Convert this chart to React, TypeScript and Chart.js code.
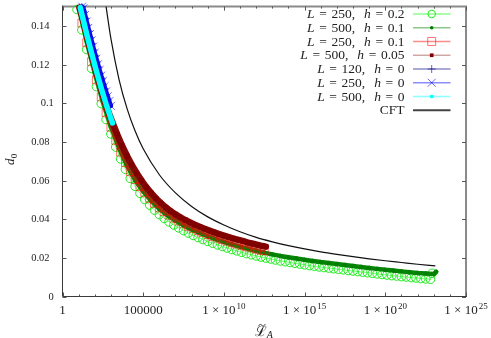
import React, { useEffect, useRef } from 'react';
import { Chart, registerables } from 'chart.js';

Chart.register(...registerables);

// ---------------- data (x given as log10 of L_A, read on the log axis) ----------------
// L = 250, h = 0.2
const GC_LOGX = [0.9, 1.2, 1.5, 1.8, 2.1, 2.4, 2.7, 3.0, 3.3, 3.6, 3.9, 4.2, 4.5, 4.8, 5.1, 5.4, 5.7, 6.0, 6.3, 6.6,
  6.9, 7.2, 7.5, 7.8, 8.1, 8.4, 8.7, 9.0, 9.3, 9.6, 9.9, 10.2, 10.5, 10.8, 11.1, 11.4, 11.7, 12.0, 12.3, 12.6,
  12.9, 13.2, 13.5, 13.8, 14.1, 14.4, 14.7, 15.0, 15.3, 15.6, 15.9, 16.2, 16.5, 16.8, 17.1, 17.4, 17.7, 18.0, 18.3, 18.6,
  18.9, 19.2, 19.5, 19.8, 20.1, 20.4, 20.7, 21.0, 21.3, 21.6, 21.9, 22.2, 22.5, 22.8, 22.9];
const GC_D = [0.1485, 0.1380, 0.1278, 0.1180, 0.1086, 0.0998, 0.0916, 0.0841, 0.0773, 0.0712,
  0.0658, 0.0611, 0.0570, 0.0534, 0.0502, 0.0473, 0.0447, 0.0424, 0.0404, 0.0386,
  0.0370, 0.0355, 0.0341, 0.0328, 0.0316, 0.0305, 0.0295, 0.0285, 0.0276, 0.0267,
  0.0259, 0.0251, 0.0243, 0.0236, 0.0229, 0.0222, 0.0216, 0.0210, 0.0204, 0.0199,
  0.0194, 0.0189, 0.0184, 0.0180, 0.0176, 0.0172, 0.0168, 0.0164, 0.0160, 0.0157,
  0.0153, 0.0150, 0.0147, 0.0144, 0.0141, 0.0138, 0.0135, 0.0132, 0.0129, 0.0126,
  0.0123, 0.0120, 0.0117, 0.0114, 0.0111, 0.0108, 0.0106, 0.0103, 0.0101, 0.0098,
  0.0096, 0.0093, 0.0091, 0.0089, 0.0120];

// L = 500, h = 0.1
const DG_LOGX = [1.1, 1.5, 2.0, 2.5, 3.0, 3.5, 4.0, 4.5, 5.0, 5.5, 6.0, 6.5, 7.0, 7.5, 8.0, 8.5, 9.0, 9.5, 10.0, 10.5,
  11.0, 11.5, 12.0, 12.5, 13.0, 13.5, 14.0, 14.5, 15.0, 15.5, 16.0, 16.5, 17.0, 17.5, 18.0, 18.5, 19.0, 19.5, 20.0, 20.5,
  21.0, 21.5, 22.0, 22.5, 23.0, 23.15];
const DG_D = [0.1465, 0.1320, 0.1157, 0.1008, 0.0878, 0.0768, 0.0676, 0.0602, 0.0544, 0.0494,
  0.0453, 0.0420, 0.0393, 0.0368, 0.0347, 0.0329, 0.0312, 0.0297, 0.0283, 0.0270,
  0.0258, 0.0247, 0.0237, 0.0227, 0.0218, 0.0210, 0.0203, 0.0197, 0.0190, 0.0184,
  0.0178, 0.0173, 0.0168, 0.0163, 0.0158, 0.0153, 0.0148, 0.0143, 0.0138, 0.0134,
  0.0130, 0.0126, 0.0122, 0.0119, 0.0116, 0.0128];

// L = 250, h = 0.1
const RS_LOGX = [1.2, 1.5, 1.8, 2.1, 2.4, 2.7, 3.0, 3.3, 3.6, 3.9, 4.2, 4.5, 4.8, 5.1, 5.4, 5.7, 6.0, 6.3, 6.6, 6.9,
  7.2, 7.5, 7.8, 8.1, 8.4, 8.7, 9.0, 9.3, 9.6, 9.9, 10.2, 10.5, 10.8, 11.1, 11.4, 11.7, 12.0, 12.3, 12.5];
const RS_D = [0.1415, 0.1313, 0.1215, 0.1121, 0.1033, 0.0951, 0.0876, 0.0808, 0.0747, 0.0693,
  0.0646, 0.0605, 0.0569, 0.0537, 0.0508, 0.0482, 0.0459, 0.0439, 0.0421, 0.0405,
  0.0390, 0.0376, 0.0363, 0.0351, 0.0340, 0.0330, 0.0320, 0.0311, 0.0302, 0.0294,
  0.0286, 0.0278, 0.0271, 0.0264, 0.0257, 0.0251, 0.0245, 0.0239, 0.0236];

// L = 500, h = 0.05
const DR_LOGX = [1.05, 1.3, 1.6, 1.9, 2.2, 2.5, 2.8, 3.1, 3.4, 3.7, 4.0, 4.3, 4.6, 4.9, 5.2, 5.5, 5.8, 6.1, 6.4, 6.7,
  7.0, 7.3, 7.6, 7.9, 8.2, 8.5, 8.8, 9.1, 9.4, 9.7, 10.0, 10.3, 10.6, 10.9, 11.2, 11.5, 11.8, 12.1, 12.4, 12.6];
const DR_D = [0.1495, 0.1421, 0.1320, 0.1223, 0.1132, 0.1045, 0.0966, 0.0900, 0.0837, 0.0779,
  0.0727, 0.0680, 0.0638, 0.0600, 0.0565, 0.0535, 0.0507, 0.0483, 0.0461, 0.0442,
  0.0425, 0.0410, 0.0396, 0.0383, 0.0371, 0.0361, 0.0351, 0.0341, 0.0332, 0.0323,
  0.0315, 0.0307, 0.0300, 0.0293, 0.0286, 0.0279, 0.0273, 0.0267, 0.0261, 0.0258];

// L = 120, h = 0
const BP_LOGX = [1.2, 1.4, 1.6, 1.8, 2.0, 2.2, 2.4, 2.6];
const BP_D = [0.1498, 0.1440, 0.1373, 0.1310, 0.1248, 0.1188, 0.1130, 0.1075];

// L = 250, h = 0
const BX_LOGX = [1.22, 1.3, 1.4, 1.5, 1.6, 1.7, 1.8, 1.9, 2.0, 2.1, 2.2, 2.3, 2.4, 2.5, 2.6, 2.7, 2.8, 2.9, 3.0];
const BX_D = [0.1500, 0.1491, 0.1457, 0.1423, 0.1390, 0.1358, 0.1325, 0.1293, 0.1262, 0.1231,
  0.1202, 0.1172, 0.1143, 0.1115, 0.1088, 0.1061, 0.1036, 0.1011, 0.0986];

// L = 500, h = 0
const CY_LOGX = [1.1, 1.2, 1.3, 1.4, 1.5, 1.6, 1.7, 1.8, 1.9, 2.0, 2.1, 2.2, 2.3, 2.4, 2.5, 2.6, 2.7, 2.8, 2.9, 3.0, 3.1];
const CY_D = [0.1495, 0.1460, 0.1426, 0.1392, 0.1358, 0.1325, 0.1293, 0.1260, 0.1228, 0.1197,
  0.1166, 0.1137, 0.1107, 0.1078, 0.1050, 0.1023, 0.0996, 0.0971, 0.0946, 0.0921, 0.0898];

// CFT
const CFT_LOGX = [2.7, 3.0, 3.5, 4.0, 4.5, 5.0, 6.0, 7.0, 8.0, 9.0, 10.0, 11.0, 12.0, 13.0, 14.0, 15.0, 16.0, 17.0, 18.0, 19.0,
  20.0, 21.0, 22.0, 23.1];
const CFT_D = [0.1500, 0.1334, 0.1124, 0.0972, 0.0856, 0.0764, 0.0630, 0.0536, 0.0466, 0.0412,
  0.0370, 0.0335, 0.0306, 0.0283, 0.0263, 0.0246, 0.0231, 0.0218, 0.0206, 0.0195,
  0.0185, 0.0176, 0.0167, 0.0158];

// axes
const Y_TICK_VALUES = [0, 0.02, 0.04, 0.06, 0.08, 0.1, 0.12, 0.14];
const Y_TICK_LABELS = ['0', '0.02', '0.04', '0.06', '0.08', '0.1', '0.12', '0.14'];
const X_MAJOR_VALUES = [1, 1e5, 1e10, 1e15, 1e20, 1e25];
const X_LABEL_MAIN = ['1', '100000', '1 × 10', '1 × 10', '1 × 10', '1 × 10'];
const X_LABEL_SUP = ['', '', '10', '15', '20', '25'];

// ---------------- series styling ----------------
type Marker = 'circle' | 'rect' | 'cross' | 'crossRot' | 'none';
interface SeriesDef {
  L: string; h: string; logx: number[]; d: number[];
  marker: Marker; radius: number; legendRadius: number; filled: boolean;
  markColor: string; lineColor: string; lineWidth: number; legendLine: string; order: number;
}

const SERIES: SeriesDef[] = [
  { L: '250', h: '0.2', logx: GC_LOGX, d: GC_D, marker: 'circle', radius: 4.3, legendRadius: 3.8, filled: false,
    markColor: 'rgba(20,235,20,0.95)', lineColor: 'rgba(0,255,0,0.5)', lineWidth: 1, legendLine: 'rgba(0,255,0,0.45)', order: 7 },
  { L: '500', h: '0.1', logx: DG_LOGX, d: DG_D, marker: 'circle', radius: 1.8, legendRadius: 1.8, filled: true,
    markColor: '#008000', lineColor: 'rgba(0,128,0,0.97)', lineWidth: 4.5, legendLine: 'rgba(0,128,0,0.45)', order: 6 },
  { L: '250', h: '0.1', logx: RS_LOGX, d: RS_D, marker: 'rect', radius: 5.6, legendRadius: 5.6, filled: false,
    markColor: 'rgba(255,0,0,0.55)', lineColor: 'rgba(255,0,0,0.55)', lineWidth: 2.5, legendLine: 'rgba(255,0,0,0.45)', order: 5 },
  { L: '500', h: '0.05', logx: DR_LOGX, d: DR_D, marker: 'rect', radius: 3.0, legendRadius: 2.6, filled: true,
    markColor: '#800000', lineColor: 'rgba(128,0,0,0.97)', lineWidth: 6.5, legendLine: 'rgba(128,0,0,0.35)', order: 4 },
  { L: '120', h: '0', logx: BP_LOGX, d: BP_D, marker: 'cross', radius: 4, legendRadius: 4, filled: false,
    markColor: 'rgba(0,0,140,0.6)', lineColor: 'rgba(0,0,128,0.6)', lineWidth: 2, legendLine: 'rgba(0,0,128,0.45)', order: 3 },
  { L: '250', h: '0', logx: BX_LOGX, d: BX_D, marker: 'crossRot', radius: 5.6, legendRadius: 5.6, filled: false,
    markColor: 'rgba(0,0,255,0.6)', lineColor: 'rgba(0,0,220,0.95)', lineWidth: 4.5, legendLine: 'rgba(0,0,255,0.45)', order: 2 },
  { L: '500', h: '0', logx: CY_LOGX, d: CY_D, marker: 'rect', radius: 2.2, legendRadius: 2.2, filled: true,
    markColor: '#00ffff', lineColor: 'rgba(0,255,255,1)', lineWidth: 5.5, legendLine: 'rgba(0,255,255,0.45)', order: 1 },
];

const FONT_SERIF = '"Liberation Serif", "DejaVu Serif", serif';
const TEXT_COLOR = '#222';

function drawMarker(ctx: CanvasRenderingContext2D, m: Marker, x: number, y: number, r: number, color: string, filled: boolean) {
  ctx.save();
  ctx.strokeStyle = color;
  ctx.fillStyle = color;
  ctx.lineWidth = 1;
  ctx.beginPath();
  if (m === 'circle') {
    ctx.arc(x, y, r, 0, Math.PI * 2);
    if (filled) ctx.fill(); else ctx.stroke();
  } else if (m === 'rect') {
    const s = r * Math.SQRT1_2;
    ctx.rect(x - s, y - s, 2 * s, 2 * s);
    if (filled) ctx.fill(); else ctx.stroke();
  } else if (m === 'cross') {
    ctx.moveTo(x - r, y); ctx.lineTo(x + r, y);
    ctx.moveTo(x, y - r); ctx.lineTo(x, y + r);
    ctx.stroke();
  } else if (m === 'crossRot') {
    const s = r * Math.SQRT1_2;
    ctx.moveTo(x - s, y - s); ctx.lineTo(x + s, y + s);
    ctx.moveTo(x - s, y + s); ctx.lineTo(x + s, y - s);
    ctx.stroke();
  }
  ctx.restore();
}

type Tok = { t?: string; it?: boolean; gap?: number };

function drawTokens(ctx: CanvasRenderingContext2D, toks: Tok[], xRight: number, y: number, size: number) {
  const fontOf = (it?: boolean) => `${it ? 'italic ' : ''}${size}px ${FONT_SERIF}`;
  let total = 0;
  const widths = toks.map((tk) => {
    if (tk.gap !== undefined) return tk.gap;
    ctx.font = fontOf(tk.it);
    return ctx.measureText(tk.t || '').width;
  });
  widths.forEach((w) => (total += w));
  let x = xRight - total;
  toks.forEach((tk, i) => {
    if (tk.t) {
      ctx.font = fontOf(tk.it);
      ctx.fillText(tk.t, x, y);
    }
    x += widths[i];
  });
}

const framePlugin = {
  id: 'gnuFrame',
  beforeDatasetsDraw(chart: any) {
    const ctx: CanvasRenderingContext2D = chart.ctx;
    const { left, right, top, bottom } = chart.chartArea;
    const xs = chart.scales.x;
    const ys = chart.scales.y;
    ctx.save();
    // border: top/right grey, left/bottom dark
    ctx.strokeStyle = '#8a8a8a';
    ctx.lineWidth = 2;
    ctx.beginPath();
    ctx.moveTo(left, top); ctx.lineTo(right, top); ctx.lineTo(right, bottom);
    ctx.stroke();
    ctx.strokeStyle = '#3a3a3a';
    ctx.lineWidth = 1;
    ctx.beginPath();
    ctx.moveTo(left, top - 1); ctx.lineTo(left, bottom); ctx.lineTo(right + 1, bottom);
    ctx.stroke();

    // y ticks (both sides, inward)
    ctx.strokeStyle = '#555';
    ctx.lineWidth = 1;
    Y_TICK_VALUES.forEach((v) => {
      const py = Math.round(ys.getPixelForValue(v)) + 0.5;
      ctx.beginPath();
      ctx.moveTo(left, py); ctx.lineTo(left + 4, py);
      ctx.moveTo(right, py); ctx.lineTo(right - 4, py);
      ctx.stroke();
    });
    // x ticks each decade
    for (let k = 0; k <= 25; k++) {
      const px = Math.round(xs.getPixelForValue(Math.pow(10, k))) + 0.5;
      const len = k % 5 === 0 ? 4 : 2;
      ctx.beginPath();
      ctx.moveTo(px, bottom); ctx.lineTo(px, bottom - len);
      ctx.moveTo(px, top); ctx.lineTo(px, top + len);
      ctx.stroke();
    }

    // y tick labels
    ctx.fillStyle = TEXT_COLOR;
    ctx.font = `10.5px ${FONT_SERIF}`;
    ctx.textAlign = 'right';
    ctx.textBaseline = 'middle';
    Y_TICK_LABELS.forEach((lab, i) => {
      const py = ys.getPixelForValue(Y_TICK_VALUES[i]);
      const xr = lab.length === 4 ? 49.5 : 53.8;
      ctx.fillText(lab, xr, py + 0.5);
    });

    // x tick labels
    ctx.textBaseline = 'alphabetic';
    ctx.textAlign = 'left';
    X_MAJOR_VALUES.forEach((v, i) => {
      const px = xs.getPixelForValue(v);
      ctx.font = `13px ${FONT_SERIF}`;
      const wMain = ctx.measureText(X_LABEL_MAIN[i]).width;
      ctx.font = `9px ${FONT_SERIF}`;
      const wSup = X_LABEL_SUP[i] ? ctx.measureText(X_LABEL_SUP[i]).width + 1 : 0;
      const x0 = px - (wMain + wSup) / 2;
      ctx.font = `13px ${FONT_SERIF}`;
      ctx.fillText(X_LABEL_MAIN[i], x0, 314);
      if (X_LABEL_SUP[i]) {
        ctx.font = `9px ${FONT_SERIF}`;
        ctx.fillText(X_LABEL_SUP[i], x0 + wMain + 1, 308.5);
      }
    });

    // x axis title: script L with tilde, subscript A
    const cx = (left + right) / 2;
    ctx.font = '14px "DejaVu Serif", serif';
    const wL = ctx.measureText('ℒ').width;
    ctx.font = `italic 10px ${FONT_SERIF}`;
    const wA = ctx.measureText('A').width;
    const tx = cx - (wL + wA) / 2;
    ctx.font = '14px "DejaVu Serif", serif';
    ctx.fillText('ℒ', tx, 336);
    ctx.font = `italic 10px ${FONT_SERIF}`;
    ctx.fillText('A', tx + wL - 0.5, 337.5);
    // tilde
    ctx.strokeStyle = TEXT_COLOR;
    ctx.lineWidth = 0.9;
    const tcx = tx + wL * 0.55;
    ctx.beginPath();
    ctx.moveTo(tcx - 3.5, 326.2);
    ctx.bezierCurveTo(tcx - 2, 323.8, tcx - 0.5, 324.2, tcx, 325.2);
    ctx.bezierCurveTo(tcx + 0.5, 326.2, tcx + 2, 326.6, tcx + 3.5, 324.2);
    ctx.stroke();

    // y axis title d_0 (rotated)
    ctx.save();
    ctx.translate(14, 165);
    ctx.rotate(-Math.PI / 2);
    ctx.textAlign = 'left';
    ctx.font = `italic 13px ${FONT_SERIF}`;
    ctx.fillText('d', 0, 0);
    const wd = ctx.measureText('d').width;
    ctx.font = `9px ${FONT_SERIF}`;
    ctx.fillText('0', wd + 0.3, 2.5);
    ctx.restore();

    ctx.restore();
  },
};

const legendPlugin = {
  id: 'gnuKey',
  afterDatasetsDraw(chart: any) {
    const ctx: CanvasRenderingContext2D = chart.ctx;
    ctx.save();
    const xText = 404.5;
    const x1 = 413, x2 = 450.5, xm = 431.7;
    const y0 = 14, dy = 13.75;
    const size = 13.5;
    const G = 4.6, C = 9;
    ctx.fillStyle = TEXT_COLOR;
    ctx.textBaseline = 'middle';
    ctx.textAlign = 'left';
    SERIES.forEach((s, i) => {
      const y = y0 + i * dy;
      ctx.fillStyle = TEXT_COLOR;
      drawTokens(ctx, [
        { t: 'L', it: true }, { gap: G }, { t: '=' }, { gap: G }, { t: s.L + ',' }, { gap: C },
        { t: 'h', it: true }, { gap: G }, { t: '=' }, { gap: G }, { t: s.h },
      ], xText, y + 0.5, size);
      ctx.strokeStyle = s.legendLine;
      ctx.lineWidth = 1.5;
      ctx.beginPath();
      ctx.moveTo(x1, y); ctx.lineTo(x2, y);
      ctx.stroke();
      drawMarker(ctx, s.marker, xm, y, s.legendRadius, s.markColor, s.filled);
    });
    const yc = y0 + SERIES.length * dy;
    ctx.fillStyle = TEXT_COLOR;
    drawTokens(ctx, [{ t: 'CFT' }], xText, yc + 0.5, size);
    ctx.strokeStyle = '#444';
    ctx.lineWidth = 2;
    ctx.beginPath();
    ctx.moveTo(x1, yc); ctx.lineTo(x2, yc);
    ctx.stroke();
    ctx.restore();
  },
};

export default function App() {
  const ref = useRef<HTMLCanvasElement>(null);
  useEffect(() => {
    document.body.style.margin = '0';
    const canvas = ref.current as HTMLCanvasElement;
    const datasets: any[] = SERIES.map((s) => ({
      label: `L = ${s.L}, h = ${s.h}`,
      data: s.logx.map((e, i) => ({ x: Math.pow(10, e), y: s.d[i] })),
      showLine: true,
      borderColor: s.lineColor,
      borderWidth: s.lineWidth,
      borderJoinStyle: 'round',
      borderCapStyle: 'round',
      pointStyle: s.marker,
      pointRadius: s.radius,
      pointBorderWidth: 1,
      pointBorderColor: s.markColor,
      pointBackgroundColor: s.filled ? s.markColor : 'rgba(0,0,0,0)',
      pointHoverRadius: s.radius,
      tension: 0,
      clip: false,
      order: s.order,
    }));
    datasets.push({
      label: 'CFT',
      data: CFT_LOGX.map((e, i) => ({ x: Math.pow(10, e), y: CFT_D[i] })),
      showLine: true,
      borderColor: '#111',
      borderWidth: 1.2,
      pointRadius: 0,
      pointHoverRadius: 0,
      cubicInterpolationMode: 'monotone',
      clip: false,
      order: 0,
    });
    const chart = new Chart(canvas, {
      type: 'scatter',
      data: { datasets },
      options: {
        animation: false,
        responsive: false,
        devicePixelRatio: 1,
        events: [],
        layout: { padding: { left: 62.5, right: 25, top: 4, bottom: 41.5 } },
        scales: {
          x: { type: 'logarithmic', min: 1, max: 1e25, display: false },
          y: { type: 'linear', min: 0, max: 0.15, display: false },
        },
        plugins: { legend: { display: false }, tooltip: { enabled: false }, title: { display: false } },
      } as any,
      plugins: [framePlugin, legendPlugin],
    });
    return () => chart.destroy();
  }, []);
  return (
    <div style={{ width: 491, height: 338, background: '#fff' }}>
      <canvas ref={ref} width={491} height={338} style={{ display: 'block' }} />
    </div>
  );
}
